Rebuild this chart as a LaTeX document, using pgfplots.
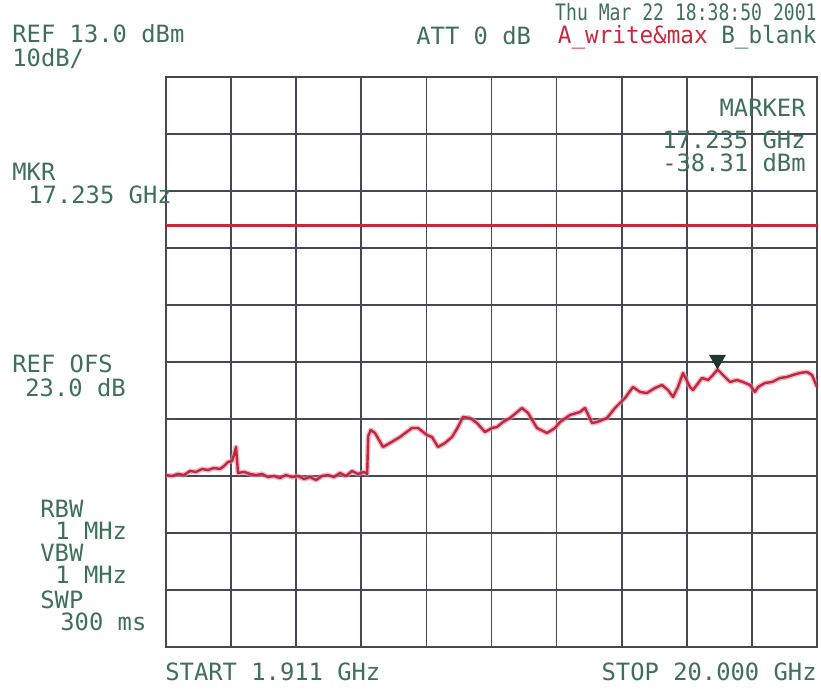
\documentclass[border=0pt]{standalone}
\usepackage{pgfplots}
\pgfplotsset{compat=1.18}
\usepackage{fontspec}
\setmainfont{Liberation Sans}
\newfontfamily\scr{DejaVu Sans Mono}
\definecolor{txtc}{RGB}{62,112,88}
\definecolor{gridc}{RGB}{70,72,88}
\definecolor{redc}{RGB}{200,40,60}
\definecolor{trc}{RGB}{190,40,65}
\definecolor{halo}{RGB}{235,140,160}
\definecolor{mkc}{RGB}{30,55,50}
\pgfplotstableread{
x y
1.911 -56.83
2.078 -57.00
2.244 -56.65
2.411 -56.83
2.578 -56.12
2.745 -56.30
2.911 -55.77
3.078 -55.95
3.245 -55.60
3.411 -55.77
3.523 -55.25
3.634 -54.54
3.745 -54.37
3.800 -53.32
3.856 -51.91
3.884 -54.19
3.912 -56.47
4.078 -56.30
4.245 -56.65
4.412 -56.83
4.578 -56.65
4.745 -57.18
4.912 -57.00
5.079 -57.35
5.245 -56.83
5.412 -57.18
5.579 -57.00
5.745 -57.53
5.912 -57.18
6.079 -57.70
6.246 -57.00
6.412 -56.83
6.579 -57.18
6.746 -56.47
6.913 -57.00
7.079 -56.12
7.246 -56.65
7.413 -56.30
7.500 -56.65
7.530 -50.00
7.600 -48.93
7.718 -49.46
7.941 -51.91
8.135 -51.21
8.413 -50.16
8.746 -48.58
8.913 -48.58
9.163 -49.81
9.302 -50.16
9.469 -51.91
9.663 -51.21
9.858 -50.16
10.024 -48.40
10.163 -46.65
10.358 -46.83
10.552 -47.70
10.774 -49.28
10.969 -48.58
11.108 -48.40
11.275 -47.53
11.469 -46.83
11.803 -45.07
11.970 -45.95
12.219 -48.58
12.497 -49.46
12.720 -48.58
12.859 -47.53
13.137 -46.30
13.414 -45.77
13.553 -45.07
13.748 -47.70
13.887 -47.53
14.165 -46.83
14.387 -45.07
14.665 -43.32
14.887 -41.39
15.082 -42.26
15.276 -42.44
15.498 -41.56
15.693 -41.04
15.860 -41.91
16.000 -43.14
16.137 -41.39
16.277 -38.93
16.471 -41.39
16.555 -41.91
16.804 -39.81
16.971 -40.16
17.110 -39.28
17.235 -38.31
17.388 -39.28
17.582 -40.51
17.777 -40.16
17.944 -40.51
18.138 -41.04
18.277 -42.26
18.361 -41.39
18.555 -40.68
18.749 -40.51
18.972 -39.81
19.166 -39.63
19.333 -39.28
19.527 -38.93
19.722 -38.75
19.861 -39.28
20.000 -41.39
}\trace
\begin{document}
\begin{tikzpicture}[x=0.5pt,y=0.5pt]
\path[use as bounding box] (0,0) rectangle (821,696);
\begin{axis}[at={(83pt,24.5pt)}, anchor=south west, scale only axis,
  width=325.5pt, height=285pt,
  xmin=1.911, xmax=20, ymin=-87, ymax=13,
  xtick={1.911,3.7199,5.5288,7.3377,9.1466,10.9555,12.7644,14.5733,16.3822,18.1911,20.0},
  ytick={-87,-77,-67,-57,-47,-37,-27,-17,-7,3,13},
  xticklabels={}, yticklabels={},
  major tick length=0pt,
  grid=major,
  major grid style={draw=gridc, line width=0.85pt},
  axis line style={draw=gridc, line width=1pt},
  tick style={draw=none}]
\addplot[redc, line width=1.3pt] coordinates {(1.911,-13.1) (20,-13.1)};
\addplot[halo, opacity=0.6, line width=2.6pt, line join=round] table[x=x,y=y] {\trace};
\addplot[trc, line width=1.2pt, line join=round] table[x=x,y=y] {\trace};
\addplot[only marks, mark=triangle*, mark size=4.5pt, mark options={rotate=180, fill=mkc, draw=mkc}] coordinates {(17.235,-36.6)};
\end{axis}
\begin{scope}[every node/.style={inner sep=0pt, text=txtc, font=\scr\fontsize{11.9}{13}\selectfont}]
\node[anchor=west] at (12,662) {REF 13.0 dBm};
\node[anchor=west] at (12,637) {10dB/};
\node[anchor=west] at (416,660) {ATT 0 dB};
\node[anchor=east] at (817,684) {\scalebox{0.76}[0.95]{Thu Mar 22 18:38:50 2001}};
\node[anchor=east] at (817,659) {\scalebox{0.95}[1]{\textcolor{redc}{A\_write\&max} B\_blank}};
\node[anchor=east] at (806,588) {MARKER};
\node[anchor=east] at (806,556) {17.235 GHz};
\node[anchor=east] at (806,533) {-38.31 dBm};
\node[anchor=west] at (12,524) {MKR};
\node[anchor=west] at (28,501) {17.235 GHz};
\node[anchor=west] at (12,332) {REF OFS};
\node[anchor=west] at (25,308) {23.0 dB};
\node[anchor=west] at (40,187) {RBW};
\node[anchor=west] at (55,165) {1 MHz};
\node[anchor=west] at (40,143) {VBW};
\node[anchor=west] at (55,121) {1 MHz};
\node[anchor=west] at (40,96) {SWP};
\node[anchor=west] at (60,74) {300 ms};
\node[anchor=west] at (165,24) {START 1.911 GHz};
\node[anchor=east] at (817,24) {STOP 20.000 GHz};
\end{scope}
\end{tikzpicture}
\end{document}
